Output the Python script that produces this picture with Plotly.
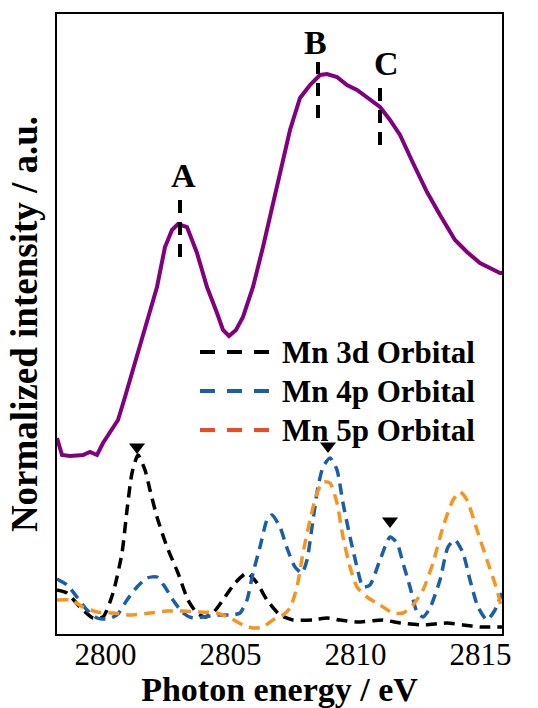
import plotly.graph_objects as go

# ---------------- data ----------------
purple_x = [2798.06, 2798.26, 2798.58, 2799.10, 2799.38, 2799.66, 2799.90, 2800.18, 2800.50,
            2800.78, 2801.06, 2801.58, 2802.06, 2802.38, 2802.66, 2802.90, 2803.26, 2803.66,
            2804.06, 2804.46, 2804.70, 2804.94, 2805.22, 2805.50, 2805.90, 2806.30, 2806.58,
            2806.98, 2807.38, 2807.78, 2808.18, 2808.58, 2808.86, 2809.26, 2809.66, 2810.06,
            2810.46, 2810.98, 2811.38, 2811.78, 2812.30, 2812.86, 2813.38, 2813.98, 2814.46,
            2814.98, 2815.78, 2815.86]
purple_y = [1.96, 1.79, 1.78, 1.79, 1.82, 1.79, 1.91, 2.01, 2.14,
            2.37, 2.61, 3.04, 3.47, 3.87, 4.04, 4.10, 4.07, 3.81,
            3.47, 3.21, 3.04, 2.98, 3.04, 3.17, 3.47, 3.87, 4.17,
            4.61, 5.04, 5.36, 5.49, 5.59, 5.60, 5.57, 5.49, 5.44,
            5.37, 5.27, 5.14, 4.99, 4.71, 4.42, 4.19, 3.94, 3.82,
            3.71, 3.61, 3.61]

mn3d_x = [2798.06, 2798.46, 2798.98, 2799.50, 2799.90, 2800.30, 2800.66, 2800.86, 2801.06,
          2801.30, 2801.58, 2801.78, 2802.06, 2802.46, 2802.90, 2803.30, 2803.66, 2803.98,
          2804.30, 2804.70, 2805.18, 2805.66, 2806.06, 2806.46, 2806.98, 2807.50, 2808.30,
          2808.86, 2809.38, 2810.06, 2811.10, 2811.78, 2812.70, 2813.66, 2814.30, 2814.98,
          2815.86]
mn3d_y = [0.44, 0.41, 0.27, 0.16, 0.17, 0.41, 0.81, 1.24, 1.61,
          1.79, 1.64, 1.44, 1.17, 0.87, 0.61, 0.34, 0.21, 0.17,
          0.21, 0.34, 0.51, 0.61, 0.51, 0.34, 0.19, 0.14, 0.14,
          0.16, 0.14, 0.12, 0.14, 0.11, 0.09, 0.11, 0.09, 0.07,
          0.07]

mn4p_x = [2798.06, 2798.46, 2798.86, 2799.26, 2799.66, 2800.06, 2800.46, 2800.86, 2801.26,
          2801.66, 2802.06, 2802.38, 2802.70, 2803.10, 2803.50, 2803.90, 2804.46, 2805.06,
          2805.38, 2805.66, 2805.90, 2806.18, 2806.46, 2806.66, 2806.98, 2807.26, 2807.58,
          2807.86, 2808.06, 2808.30, 2808.50, 2808.70, 2808.98, 2809.26, 2809.50, 2809.78,
          2810.06, 2810.30, 2810.58, 2810.98, 2811.38, 2811.66, 2811.90, 2812.18, 2812.46,
          2812.70, 2812.98, 2813.38, 2813.70, 2813.98, 2814.30, 2814.58, 2814.90, 2815.26,
          2815.58, 2815.86]
mn4p_y = [0.55, 0.49, 0.37, 0.24, 0.16, 0.15, 0.19, 0.34, 0.47,
          0.56, 0.57, 0.47, 0.34, 0.21, 0.16, 0.17, 0.19, 0.19,
          0.21, 0.34, 0.61, 0.87, 1.14, 1.19, 1.07, 0.86, 0.67,
          0.61, 0.74, 1.14, 1.47, 1.67, 1.76, 1.64, 1.31, 0.97,
          0.67, 0.47, 0.49, 0.74, 0.97, 0.91, 0.71, 0.47, 0.22,
          0.17, 0.26, 0.54, 0.87, 0.94, 0.81, 0.54, 0.27, 0.14,
          0.24, 0.41]

mn5p_x = [2798.06, 2798.58, 2799.10, 2799.66, 2800.30, 2800.98, 2801.78, 2802.46, 2803.10,
          2803.78, 2804.46, 2804.98, 2805.50, 2805.90, 2806.30, 2806.70, 2807.10, 2807.38,
          2807.66, 2807.90, 2808.18, 2808.46, 2808.70, 2808.98, 2809.26, 2809.50, 2809.78,
          2810.06, 2810.46, 2810.98, 2811.50, 2811.90, 2812.30, 2812.70, 2813.10, 2813.50,
          2813.90, 2814.18, 2814.46, 2814.86, 2815.26, 2815.66, 2815.86]
mn5p_y = [0.34, 0.34, 0.27, 0.22, 0.21, 0.19, 0.21, 0.23, 0.23,
          0.22, 0.21, 0.16, 0.09, 0.06, 0.07, 0.14, 0.19, 0.26,
          0.47, 0.81, 1.14, 1.41, 1.52, 1.51, 1.31, 0.97, 0.67,
          0.47, 0.37, 0.29, 0.21, 0.21, 0.29, 0.44, 0.71, 1.07,
          1.34, 1.42, 1.34, 1.04, 0.74, 0.44, 0.24]

# peak markers (triangles) above orbital peaks
tri_x = [2801.26, 2808.90, 2811.38]
tri_y = [1.87, 1.88, 1.13]

# feature labels A, B, C with dashed guide lines
feat_labels = ["A", "B", "C"]
feat_x = [2802.98, 2808.50, 2810.98]
feat_line_top = [4.36, 5.72, 5.46]
feat_line_bot = [3.77, 5.16, 4.89]
feat_label_x = [2803.10, 2808.38, 2811.22]
feat_label_y = [4.59, 5.92, 5.71]

legend_names = ["Mn 3d Orbital", "Mn 4p Orbital", "Mn 5p Orbital"]
curve_colors = ["#000000", "#1a5ea8", "#f7941d"]
legend_colors = ["#000000", "#1a5ea8", "#ee4a24"]

x_ticks = [2800, 2805, 2810, 2815]

FONT = "Liberation Serif, Times New Roman, Times, serif"

fig = go.Figure()

fig.add_trace(go.Scatter(x=purple_x, y=purple_y, mode="lines",
                         line=dict(color="#800080", width=4), showlegend=False))

for xs, ys, col, name in [(mn3d_x, mn3d_y, curve_colors[0], legend_names[0]),
                          (mn4p_x, mn4p_y, curve_colors[1], legend_names[1]),
                          (mn5p_x, mn5p_y, curve_colors[2], legend_names[2])]:
    fig.add_trace(go.Scatter(x=xs, y=ys, mode="lines", name=name,
                             line=dict(color=col, width=3.5, dash="11px,7px", shape="spline",
                                       smoothing=0.6),
                             showlegend=False))

fig.add_trace(go.Scatter(x=tri_x, y=tri_y, mode="markers",
                         marker=dict(symbol="triangle-down", size=14, color="black"),
                         showlegend=False))

for i in range(3):
    fig.add_trace(go.Scatter(x=[feat_x[i], feat_x[i]], y=[feat_line_bot[i], feat_line_top[i]],
                             mode="lines", line=dict(color="black", width=4, dash="13px,9px"),
                             showlegend=False))
    fig.add_annotation(x=feat_label_x[i], y=feat_label_y[i], text="<b>%s</b>" % feat_labels[i],
                       showarrow=False, xanchor="center", yanchor="middle",
                       font=dict(family=FONT, size=34, color="black"))

# custom legend (long dashed samples like the reference)
leg_rows = [0.4548, 0.3919, 0.3290]
for i in range(3):
    fig.add_shape(type="line", xref="paper", yref="paper",
                  x0=0.3213, x1=0.4787, y0=leg_rows[i], y1=leg_rows[i],
                  line=dict(color=legend_colors[i], width=4, dash="15px,12px"))
    fig.add_annotation(xref="paper", yref="paper", x=0.5011, y=leg_rows[i],
                       text="<b>%s</b>" % legend_names[i], showarrow=False,
                       xanchor="left", yanchor="middle",
                       font=dict(family=FONT, size=31, color="black"))

fig.update_layout(
    width=538, height=708,
    margin=dict(l=57, r=36, t=14, b=74, autoexpand=False),
    paper_bgcolor="white", plot_bgcolor="white",
    font=dict(family=FONT, color="black"),
    xaxis=dict(range=[2798.06, 2815.86], tickvals=x_ticks, ticks="",
               ticklabelstandoff=-8,
               showgrid=False, zeroline=False, showline=True, mirror=True,
               linecolor="black", linewidth=1.5, automargin=False,
               tickfont=dict(family=FONT, size=31, color="black"),
               title=dict(text="<b>Photon energy / eV</b>", standoff=0,
                          font=dict(family=FONT, size=34, color="black"))),
    yaxis=dict(range=[0, 6.2], showticklabels=False, ticks="",
               showgrid=False, zeroline=False, showline=True, mirror=True,
               linecolor="black", linewidth=1.5, automargin=False,
               title=dict(text="<b>Normalized intensity / a.u.</b>", standoff=6,
                          font=dict(family=FONT, size=37, color="black"))),
)

fig.write_html("out.html")
